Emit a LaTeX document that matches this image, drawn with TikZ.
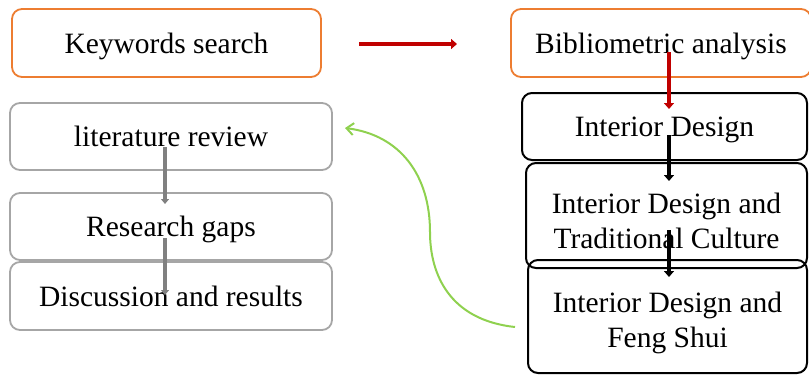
\documentclass[tikz,border=0pt]{standalone}
\usepackage{fontspec}
\setmainfont{Liberation Serif}
\usetikzlibrary{arrows.meta}
\definecolor{boxorange}{HTML}{ED7D31}
\definecolor{arrred}{HTML}{C00000}
\definecolor{boxgray}{HTML}{A6A6A6}
\definecolor{arrgray}{HTML}{808080}
\definecolor{curvegreen}{HTML}{8FD14F}
\tikzset{
  base/.style={rounded corners=10pt, line width=1.8pt, align=center, inner sep=0pt,
    text depth=-2pt,
    font=\fontsize{29.5}{35}\selectfont},
  obox/.style={base, draw=boxorange},
  kbox/.style={base, draw=black, line width=2pt},
  gbox/.style={base, draw=boxgray},
  redarr/.style={draw=arrred, line width=4.5pt, -{Triangle[width=10pt,length=6pt]}},
  blkarr/.style={draw=black, line width=4.5pt, -{Triangle[width=10pt,length=6pt]}},
  grayarr/.style={draw=arrgray, line width=3.5pt, -{Triangle[width=8pt,length=5pt]}},
  greenarr/.style={draw=curvegreen, line width=2pt, -{Straight Barb[width=12pt,length=7pt]}}
}
\begin{document}
\begin{tikzpicture}[x=1pt,y=-1pt]
\useasboundingbox (0,0) rectangle (809,375);
% nodes
\node[obox, minimum width=309pt, minimum height=68pt] (kw) at (166.5,43) {Keywords search};
\node[obox, minimum width=300pt, minimum height=68pt] (bib) at (661,43) {Bibliometric analysis};
\node[kbox, minimum width=285pt, minimum height=67pt] (id) at (664.5,126.5) {Interior Design};
\node[kbox, minimum width=281pt, minimum height=105pt] (idtc) at (666.5,215.5) {\rule{0pt}{31pt}Interior Design and\\Traditional Culture};
\node[kbox, minimum width=279pt, minimum height=113pt] (idfs) at (667.5,316.5) {\rule{0pt}{27pt}Interior Design and\\Feng Shui};
\node[gbox, minimum width=322pt, minimum height=67pt] (lit) at (171,136.5) {literature review};
\node[gbox, minimum width=322pt, minimum height=67pt] (gap) at (171,226.5) {Research gaps};
\node[gbox, minimum width=322pt, minimum height=68pt] (dis) at (171,296) {Discussion and results};
% connector end points
\coordinate (r1s) at (359,44);
\coordinate (r1e) at (457,44);
\coordinate (r2s) at (669,52);
\coordinate (r2e) at (669,109);
\coordinate (b1s) at (669,135);
\coordinate (b1e) at (669,181);
\coordinate (b2s) at (669,230);
\coordinate (b2e) at (669,277);
\coordinate (g1s) at (165,147);
\coordinate (g1e) at (165,204);
\coordinate (g2s) at (165,238);
\coordinate (g2e) at (165,295);
\coordinate (cs) at (515,327);
\coordinate (cm) at (430,232);
\coordinate (ce) at (345,128);
% connectors
\draw[redarr] (r1s) -- (r1e);
\draw[redarr] (r2s) -- (r2e);
\draw[blkarr] (b1s) -- (b1e);
\draw[blkarr] (b2s) -- (b2e);
\draw[grayarr] (g1s) -- (g1e);
\draw[grayarr] (g2s) -- (g2e);
\draw[greenarr] (cs) .. controls (450,320) and (430,275) .. (cm) .. controls (430,175) and (400,135) .. (ce);
\end{tikzpicture}
\end{document}
